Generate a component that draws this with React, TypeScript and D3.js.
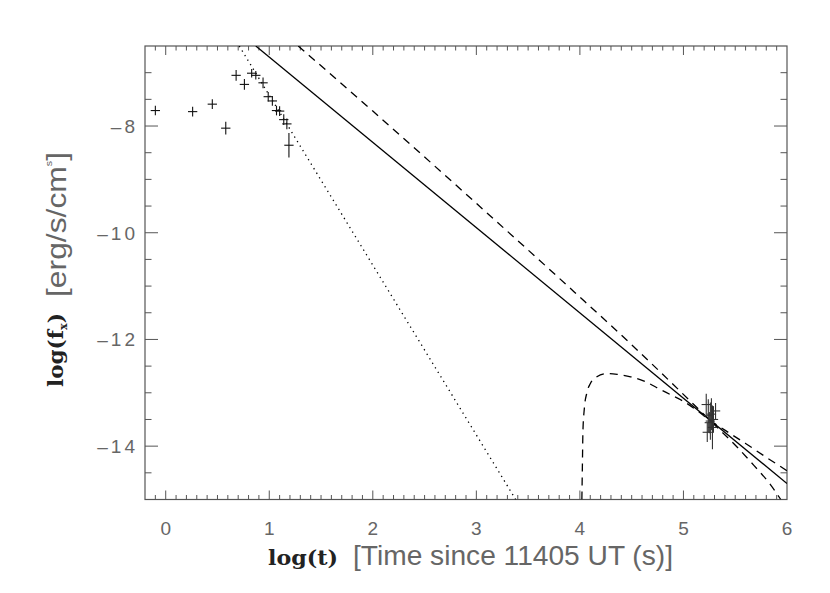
import React from 'react';
import * as d3 from 'd3';

// early X-ray points: log(t), log(f) and vertical error (dex)
const earlyT = [-0.1, 0.26, 0.45, 0.58, 0.68, 0.76, 0.83, 0.87, 0.94, 0.99, 1.03, 1.07, 1.1, 1.14, 1.17, 1.19];
const earlyF = [-7.71, -7.73, -7.59, -8.04, -7.05, -7.22, -7.01, -7.05, -7.19, -7.45, -7.53, -7.71, -7.72, -7.88, -7.96, -8.36];
const earlyErr = [0.09, 0.09, 0.09, 0.12, 0.1, 0.1, 0.08, 0.08, 0.1, 0.09, 0.09, 0.09, 0.09, 0.1, 0.1, 0.23];

// late cluster near log(t) ~ 5.25
const lateT = [5.22, 5.23, 5.24, 5.25, 5.26, 5.27, 5.28, 5.29, 5.31];
const lateF = [-13.22, -13.74, -13.43, -13.56, -13.53, -13.4, -13.65, -13.5, -13.34];
const lateErr = [0.2, 0.18, 0.31, 0.2, 0.35, 0.3, 0.41, 0.25, 0.15];

const xErr = 0.045;

// model curves
const fitT = [0.87, 6.0];
const fitF = [-6.5, -14.7];
const dotT = [0.71, 3.38];
const dotF = [-6.5, -15.0];
const steepT = [1.28, 2.0, 3.0, 3.94, 4.5, 5.1, 5.3, 5.52, 5.68, 5.84, 5.94];
const steepF = [-6.5, -7.72, -9.45, -11.1, -12.1, -13.22, -13.6, -14.02, -14.36, -14.72, -15.0];
const bumpT = [4.019, 4.025, 4.029, 4.042, 4.067, 4.1, 4.164, 4.26, 4.36, 4.49, 4.62, 4.74, 4.87, 5.0, 5.13, 5.26, 5.4, 5.6, 5.8, 6.0];
const bumpF = [-15.0, -14.24, -13.74, -13.31, -13.0, -12.83, -12.7, -12.64, -12.655, -12.7, -12.78, -12.9, -13.03, -13.16, -13.33, -13.52, -13.7, -13.95, -14.21, -14.46];

const xTicks = [0, 1, 2, 3, 4, 5, 6];
const yTicks = [-8, -10, -12, -14];

const W = 830;
const H = 593;
const L = 145, R = 787, T = 46, B = 499.5;

const sans = '"Liberation Sans", Arial, sans-serif';
const serif = '"DejaVu Serif", serif';
const axisCol = '#555';
const textCol = '#666';

export default function App() {
  const x = d3.scaleLinear().domain([-0.2, 6]).range([L, R]);
  const y = d3.scaleLinear().domain([-15, -6.5]).range([B, T]);

  const pts = (ts: number[], fs: number[]) => ts.map((t, i) => [t, fs[i]] as [number, number]);
  const straight = d3.line<[number, number]>().x(d => x(d[0])).y(d => y(d[1]));
  const smooth = d3.line<[number, number]>().x(d => x(d[0])).y(d => y(d[1])).curve(d3.curveMonotoneX);

  const xMinor = d3.range(-0.1, 6, 0.1).map(v => Math.round(v * 10) / 10);
  const yMinor = d3.range(-14.5, -6.5, 0.5);

  const cross = (t: number, f: number, e: number, key: string, col: string) => (
    <g key={key} stroke={col} strokeWidth={1.1}>
      <line x1={x(t - xErr)} x2={x(t + xErr)} y1={y(f)} y2={y(f)} />
      <line x1={x(t)} x2={x(t)} y1={y(f - e)} y2={y(f + e)} />
    </g>
  );

  return (
    <svg width={W} height={H} style={{ position: 'absolute', left: 0, top: 0, background: '#fff' }}>
      <defs>
        <clipPath id="plot">
          <rect x={L} y={T} width={R - L} height={B - T} />
        </clipPath>
      </defs>

      {/* axes box and ticks */}
      <rect x={L} y={T} width={R - L} height={B - T} fill="none" stroke={axisCol} strokeWidth={1.2} />
      <g stroke={axisCol} strokeWidth={1}>
        {xMinor.map(v => {
          const major = xTicks.includes(v);
          const len = major ? 9 : 4.5;
          return (
            <g key={'xm' + v}>
              <line x1={x(v)} x2={x(v)} y1={B} y2={B - len} />
              <line x1={x(v)} x2={x(v)} y1={T} y2={T + len} />
            </g>
          );
        })}
        {yMinor.map(v => {
          const major = yTicks.includes(v);
          const len = major ? 13 : 6.5;
          return (
            <g key={'ym' + v}>
              <line x1={L} x2={L + len} y1={y(v)} y2={y(v)} />
              <line x1={R} x2={R - len} y1={y(v)} y2={y(v)} />
            </g>
          );
        })}
      </g>

      {/* tick labels */}
      <g fontFamily={sans} fontSize={19} fill={textCol}>
        {xTicks.map(v => (
          <text key={'xl' + v} x={x(v)} y={535} textAnchor="middle">{v}</text>
        ))}
        {yTicks.map(v => (
          <text key={'yl' + v} x={138} y={y(v)} dy="0.36em" textAnchor="end" letterSpacing={3}>
            {'\u2013' + Math.abs(v)}
          </text>
        ))}
      </g>

      {/* axis titles */}
      <text x={268} y={565} fontFamily={serif} fontWeight="bold" fontSize={21} fill="#222"
        textLength={70} lengthAdjust="spacingAndGlyphs">log(t)</text>
      <text x={353} y={565} fontFamily={sans} fontSize={27} fill={textCol}
        textLength={320} lengthAdjust="spacingAndGlyphs">[Time since 11405 UT (s)]</text>

      <g transform="translate(63,387) rotate(-90)">
        <text fontFamily={serif} fontWeight="bold" fontSize={21} fill="#222" textLength={74} lengthAdjust="spacingAndGlyphs">
          log(f<tspan fontSize={11} dy={4}>x</tspan><tspan dy={-4}>)</tspan>
        </text>
      </g>
      <g transform="translate(66,297) rotate(-90)">
        <text fontFamily={sans} fontSize={27} fill={textCol} textLength={145} lengthAdjust="spacingAndGlyphs">
          [erg/s/cm<tspan fontSize={9} dy={-14}>s</tspan><tspan dy={14}>]</tspan>
        </text>
      </g>

      {/* model curves */}
      <g clipPath="url(#plot)" fill="none" stroke="#000" strokeWidth={1.3}>
        <path d={straight(pts(fitT, fitF)) || ''} />
        <path d={straight(pts(dotT, dotF)) || ''} strokeDasharray="1.3 4" />
        <path d={smooth(pts(steepT, steepF)) || ''} strokeDasharray="8 6" />
        <path d={smooth(pts(bumpT, bumpF)) || ''} strokeDasharray="8 6" />
      </g>

      {/* data points */}
      {earlyT.map((t, i) => cross(t, earlyF[i], earlyErr[i], 'e' + i, '#111'))}
      {lateT.map((t, i) => cross(t, lateF[i], lateErr[i], 'l' + i, '#333'))}
    </svg>
  );
}
